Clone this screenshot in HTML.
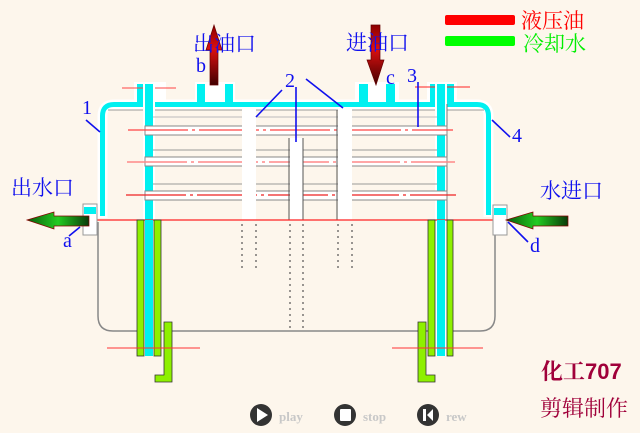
<!DOCTYPE html>
<html><head><meta charset="utf-8"><style>
html,body{margin:0;padding:0;background:#fdf6ec;}
svg{display:block}
text{font-family:"Liberation Serif","Noto Serif CJK SC","Noto Sans CJK SC",serif;}
</style></head><body>
<svg width="640" height="433" viewBox="0 0 640 433" xmlns="http://www.w3.org/2000/svg">
<defs>
<linearGradient id="gl" x1="0" x2="1" y1="0" y2="0"><stop offset="0" stop-color="#0a5a0a"/><stop offset="0.5" stop-color="#22cc22"/><stop offset="1" stop-color="#0a3a0a"/></linearGradient>
<linearGradient id="rv" x1="0" x2="0" y1="0" y2="1"><stop offset="0" stop-color="#8b0000"/><stop offset="0.4" stop-color="#dd1010"/><stop offset="1" stop-color="#400000"/></linearGradient>
</defs>
<rect width="640" height="433" fill="#fdf6ec"/>
<!-- shell outline -->
<path d="M98 222 V316 Q98 331 113 331 H480 Q495 331 495 316 V222" fill="none" stroke="#888" stroke-width="1.5"/>
<!-- top jacket -->
<path d="M102.5 218 V116 Q102.5 104.5 114 104.5 H477 Q488.5 104.5 488.5 116 V217" fill="none" stroke="#fff" stroke-width="10"/>
<path d="M102.5 216 V116 Q102.5 104.5 114 104.5 H477 Q488.5 104.5 488.5 116 V215" fill="none" stroke="#00f0f0" stroke-width="5"/>
<line x1="108" y1="110" x2="484" y2="110" stroke="#999" stroke-width="1"/>
<!-- top ports -->
<g fill="#fff"><rect x="134" y="82" width="32" height="20"/><rect x="195" y="82" width="40" height="20"/><rect x="355" y="82" width="44" height="20"/><rect x="427" y="82" width="30" height="20"/></g>
<g fill="#00f0f0"><rect x="137" y="84" width="7" height="20"/><rect x="197" y="84" width="8" height="20"/><rect x="225" y="84" width="8" height="20"/><rect x="359" y="84" width="9" height="20"/><rect x="386" y="84" width="9" height="20"/><rect x="430" y="84" width="7" height="20"/><rect x="447" y="84" width="7" height="20"/></g>
<line x1="122" y1="88" x2="176" y2="88" stroke="#f44" stroke-width="1"/>
<line x1="415" y1="87" x2="470" y2="87" stroke="#f22" stroke-width="1"/>
<!-- tube sheets / vertical cyan -->
<rect x="143" y="84" width="12" height="272" fill="#fff"/>
<rect x="145" y="84" width="8" height="272" fill="#00f0f0"/>
<rect x="435" y="84" width="12" height="272" fill="#fff"/>
<rect x="437" y="84" width="8" height="272" fill="#00f0f0"/>
<line x1="447" y1="104" x2="447" y2="220" stroke="#777"/>
<!-- tubes -->
<g>
<rect x="145" y="126" width="302" height="9" fill="#fff" stroke="#888" stroke-width="1"/>
<rect x="145" y="157" width="302" height="9" fill="#fff" stroke="#888" stroke-width="1"/>
<rect x="145" y="191" width="302" height="9" fill="#fff" stroke="#888" stroke-width="1"/>
<line x1="153" y1="150" x2="437" y2="150" stroke="#999"/>
<line x1="153" y1="184" x2="437" y2="184" stroke="#999"/>
<line x1="153" y1="117" x2="437" y2="117" stroke="#bbb"/>
<line x1="128" y1="130" x2="453" y2="130" stroke="#f44" stroke-width="1.2" stroke-dasharray="60 4 3 4"/>
<line x1="127" y1="162" x2="455" y2="162" stroke="#f88" stroke-width="1.6" stroke-dasharray="60 4 3 4"/>
<line x1="126" y1="195" x2="456" y2="195" stroke="#e22" stroke-width="1.2" stroke-dasharray="60 4 3 4"/>
</g>
<!-- baffles -->
<g fill="#fff"><rect x="242" y="108" width="14" height="112"/><rect x="290" y="138" width="13" height="82"/><rect x="338" y="108" width="14" height="112"/></g>
<g stroke="#555" stroke-width="1"><line x1="289" y1="138" x2="289" y2="220"/><line x1="303" y1="138" x2="303" y2="220"/><line x1="337" y1="110" x2="337" y2="220"/></g>
<!-- dotted below -->
<g stroke="#333" stroke-width="1" stroke-dasharray="2 4" fill="none">
<line x1="242" y1="224" x2="242" y2="272"/><line x1="256" y1="224" x2="256" y2="272"/>
<line x1="338" y1="224" x2="338" y2="272"/><line x1="352" y1="224" x2="352" y2="272"/>
<line x1="290" y1="224" x2="290" y2="330"/><line x1="303" y1="224" x2="303" y2="330"/>
</g>
<!-- red horizontal -->
<line x1="88" y1="220" x2="505" y2="220" stroke="#f22" stroke-width="1.2"/>
<!-- green stacks -->
<g fill="#8ef000" stroke="#333" stroke-width="0.8">
<rect x="137" y="220" width="7" height="136"/><rect x="154" y="220" width="7" height="136"/>
<rect x="428" y="220" width="7" height="136"/><rect x="447" y="220" width="6" height="136"/>
<path d="M164 322 H172 V382 H155 V375 H164 Z"/>
<path d="M418 322 H426 V375 H435 V382 H418 Z"/>
</g>
<rect x="145" y="220" width="8" height="136" fill="#00f0f0"/>
<rect x="437" y="220" width="8" height="136" fill="#00f0f0"/>
<line x1="107" y1="348" x2="200" y2="348" stroke="#f33"/>
<line x1="392" y1="348" x2="483" y2="348" stroke="#f33"/>
<!-- side nozzles -->
<rect x="83" y="204" width="14" height="31" fill="#fff" stroke="#999"/>
<rect x="84" y="207" width="12" height="7" fill="#00f0f0"/>
<rect x="493" y="205" width="14" height="30" fill="#fff" stroke="#999"/>
<rect x="494" y="208" width="12" height="7" fill="#00f0f0"/>
<!-- green arrows -->
<path d="M27 220 L54 212 V216 H89 V226 H54 V229 Z" fill="url(#gl)" stroke="#800" stroke-width="0.7"/>
<path d="M506 220 L533 212 V216 H568 V226 H533 V229 Z" fill="url(#gl)" stroke="#800" stroke-width="0.7"/>
<!-- red arrows -->
<path d="M214 25 L222 50 H218 V85 H210 V50 H206 Z" fill="url(#rv)" stroke="#600" stroke-width="0.7"/>
<path d="M371 25 H380 V60 H384 L376 85 L367 60 H371 Z" fill="url(#rv)" stroke="#600" stroke-width="0.7"/>
<!-- legend -->
<rect x="445" y="15" width="70" height="10" rx="2" fill="#f00"/>
<rect x="445" y="36" width="70" height="10" rx="2" fill="#0f0"/>
<text x="521" y="28" font-size="21" fill="#f00">液压油</text>
<text x="523" y="51" font-size="21" fill="#0e0">冷却水</text>
<!-- blue labels -->
<g fill="#1010ee" font-size="21">
<text x="193" y="51">出油口</text><text x="346" y="50">进油口</text>
<text x="11" y="195">出水口</text><text x="540" y="198">水进口</text>
</g>
<g fill="#1010ee" font-size="20">
<text x="196" y="72">b</text><text x="386" y="84">c</text>
<text x="285" y="87">2</text><text x="407" y="82">3</text>
<text x="82" y="114">1</text><text x="512" y="142">4</text>
<text x="63" y="247">a</text><text x="530" y="252">d</text>
</g>
<g stroke="#1010ee" stroke-width="1.6">
<line x1="282" y1="90" x2="256" y2="117"/><line x1="296" y1="87" x2="296" y2="142"/>
<line x1="306" y1="79" x2="343" y2="108"/><line x1="418" y1="82" x2="418" y2="127"/>
<line x1="86" y1="120" x2="100" y2="132"/><line x1="492" y1="120" x2="510" y2="137"/>
<line x1="80" y1="227" x2="69" y2="236"/><line x1="508" y1="222" x2="528" y2="242"/>
</g>
<!-- credit -->
<text x="541" y="379" font-size="22" fill="#a0003a" font-weight="bold">化工<tspan font-family="Liberation Sans,sans-serif">707</tspan></text>
<text x="540" y="416" font-size="22" fill="#a0003a">剪辑制作</text>
<!-- buttons -->
<g fill="#333"><circle cx="261" cy="415" r="11"/><circle cx="345" cy="415" r="11"/><circle cx="428" cy="415" r="11"/></g>
<path d="M257 408 L268 415 L257 422 Z" fill="#fff"/>
<rect x="340" y="409" width="11" height="12" rx="1" fill="#fff"/>
<path d="M423 409 H426 V421 H423 Z M433 409 L427 415 L433 421 Z" fill="#fff"/>
<g fill="#c8c8c8" font-family="Liberation Mono,monospace" font-size="13" font-weight="bold">
<text x="279" y="421">play</text><text x="363" y="421">stop</text><text x="446" y="421">rew</text>
</g>
</svg>
</body></html>
